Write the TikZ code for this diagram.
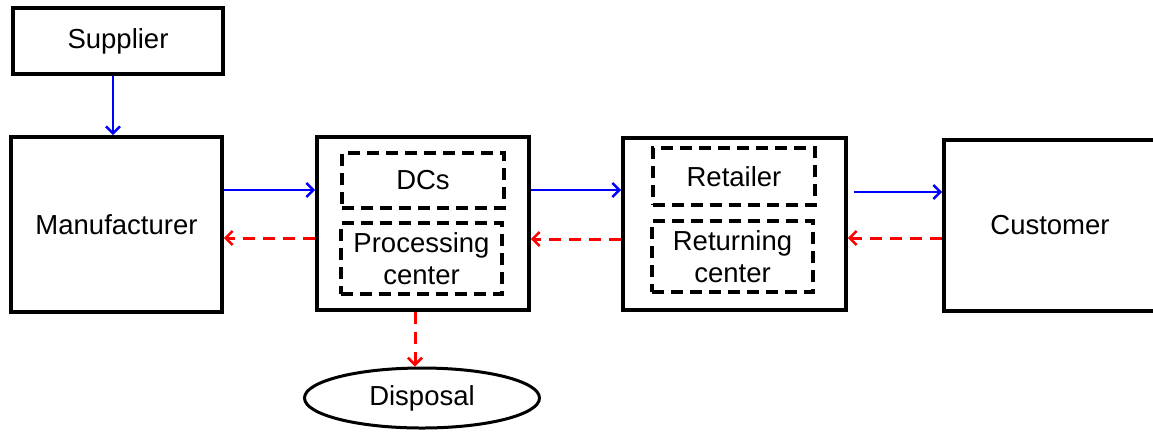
\documentclass[tikz,border=0pt]{standalone}
\usepackage{fontspec}
\setmainfont{Liberation Sans}
\usetikzlibrary{shapes.geometric,arrows.meta}
\tikzset{
  box/.style={draw=black, line width=3.6pt, rectangle, inner sep=0pt, align=center,
    font=\fontsize{27.5}{32}\selectfont},
  inbox/.style={draw=black, line width=3.2pt, dash pattern=on 12pt off 7pt, rectangle,
    inner sep=0pt, align=center, font=\fontsize{27.5}{32}\selectfont},
  endnode/.style={draw=black, line width=3pt, ellipse, inner sep=0pt,
    font=\fontsize{27.5}{32}\selectfont},
  tip/.style={-{Straight Barb[length=7pt,width=14pt,line width=2.6pt]}},
  flow/.style={tip, draw=blue, line width=2.6pt},
  back/.style={tip, draw=red, line width=3pt, dash pattern=on 12pt off 8pt}
}
\begin{document}
\begin{tikzpicture}[x=1pt,y=-1pt]
\useasboundingbox (0,0) rectangle (1153,432);
\fill[white] (0,0) rectangle (1153,432);

% main chain
\node[box, minimum width=210pt, minimum height=66pt] (sup) at (118,41) {Supplier};
\node[box, minimum width=211pt, minimum height=175pt] (man) at (116.5,224.5) {Manufacturer};
\node[box, minimum width=212pt, minimum height=173pt] (dcg) at (423,223.5) {};
\node[box, minimum width=223pt, minimum height=172pt] (rtg) at (734.5,224) {};
\node[box, minimum width=212pt, minimum height=171pt] (cus) at (1050,225.5) {Customer};

% inner dashed units
\node[inbox, minimum width=162pt, minimum height=55pt] (dc) at (423,180.5) {DCs};
\node[inbox, minimum width=161pt, minimum height=71pt] (pc) at (421.5,258.5) {Processing\\center};
\node[inbox, minimum width=162pt, minimum height=57pt] (rt) at (734,176.5) {Retailer};
\node[inbox, minimum width=161pt, minimum height=71pt] (rc) at (732.5,256.5) {Returning\\center};

% disposal
\node[endnode, minimum width=235pt, minimum height=60pt] (dis) at (422,398) {Disposal};

% forward flows
\draw[flow] ([xshift=-5pt]sup.south) -- ([xshift=-5pt]sup.south |- man.north);
\draw[flow] (man.east |- 0,190) -- (dcg.west |- 0,190);
\draw[flow] (dcg.east |- 0,190) -- (rtg.west |- 0,190);
\draw[flow, shorten <=6pt] (rtg.east |- 0,192) -- (cus.west |- 0,192);

% return flows
\draw[back] (cus.west |- 0,238) -- (rtg.east |- 0,238);
\draw[back] (rtg.west |- 0,239) -- (dcg.east |- 0,239);
\draw[back] (dcg.west |- 0,238) -- (man.east |- 0,238);
\draw[back] (dcg.south -| 415,0) -- (dis.north -| 415,0);
\end{tikzpicture}
\end{document}
